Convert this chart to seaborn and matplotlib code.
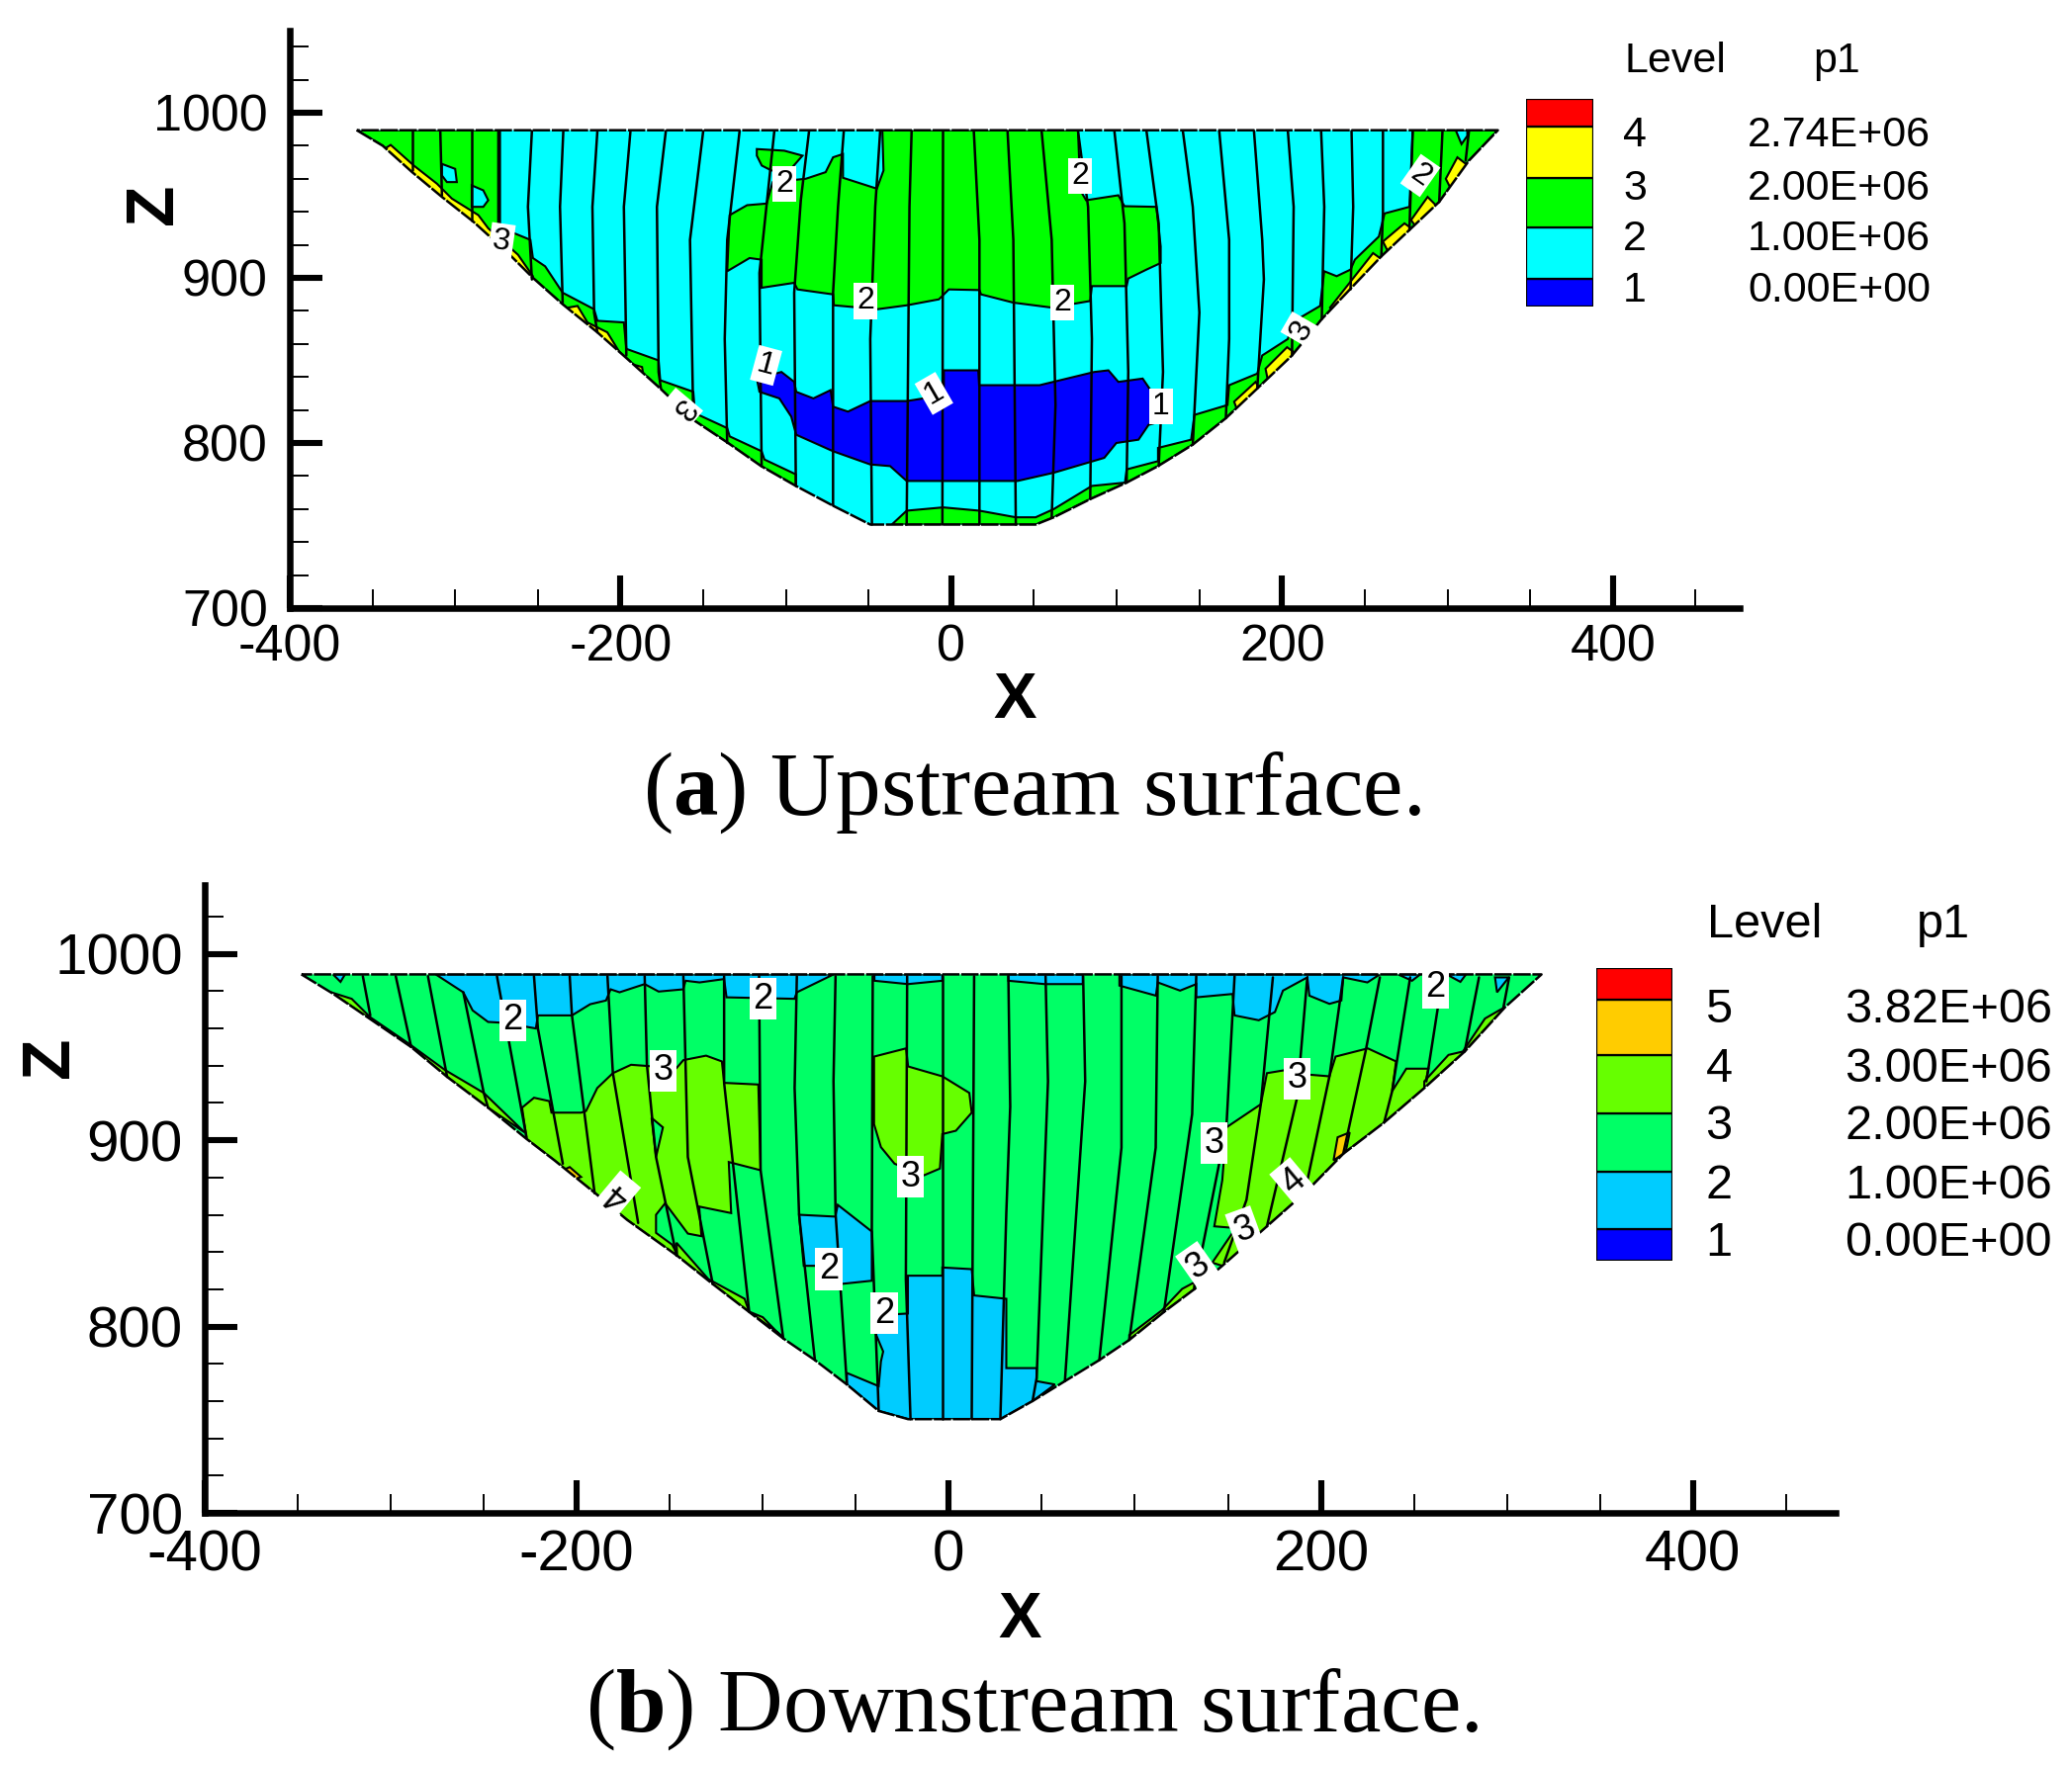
import matplotlib
matplotlib.use("Agg")
import matplotlib.pyplot as plt
import numpy as np
import pandas as pd
import seaborn as sns

# ----------------------------------------------------------
# Colours / levels
# ----------------------------------------------------------

top_colors = ["#0000FF", "#00FFFF", "#00FF00", "#FFFF00", "#FF0000"]
bot_colors = ["#0000FF", "#00CCFF", "#00FF66", "#66FF00", "#FFCC00", "#FF0000"]

top_levels = ["4", "3", "2", "1"]
top_values = ["2.74E+06", "2.00E+06", "1.00E+06", "0.00E+00"]
bot_levels = ["5", "4", "3", "2", "1"]
bot_values = ["3.82E+06", "3.00E+06", "2.00E+06", "1.00E+06", "0.00E+00"]

# ----------------------------------------------------------
# Upstream surface (x, z)
# ----------------------------------------------------------

top_outline = [(-359.5,989.4),(-343.8,980),(-326,964),(-308,949),(-289,934),(-268,915),(-253,900),
    (-235,884),(-214,867),(-196,851),(-176,833),(-156,814),(-135,800),(-115,786),(-94,774),(-71.5,762),
    (-49,750.6),(51,750.6),(62,755),(84,766),(106,776),(125,786),(146,799),(166,815),(185,833),(206,853),
    (224,875),(241,893),(260,913),(277,929),(295,946),(313,971),(330.5,989.4)]

top_green_left = [(-359.5,989.4),(-274,989.4),(-274,931),(-254.5,923),(-253,912),(-245.6,907),(-235,891),
    (-216,881),(-214,874),(-198,873),(-196.5,857),(-177,850),(-176,838),(-156,831),(-155,818),(-135.5,809),
    (-134,804),(-114.7,795),(-113,790),(-94,781),(-94,774),(-115,786),(-135,800),(-156,814),(-176,833),
    (-196,851),(-214,867),(-235,884),(-253,900),(-268,915),(-289,934),(-308,949),(-326,964),(-343.8,980)]

top_green_mid = [(-41.7,989.4),(-41,965),(-45,954),(-65.5,960.6),(-65.5,975),(-71.5,973),(-76,964),(-88,960),
    (-108,958),(-111.6,945),(-123.5,944),(-134,938),(-135.5,904),(-122,912),(-114.7,911),(-114.7,894),(-95,897),
    (-93,893),(-71.5,890),(-71,883.4),(-44.7,881),(-26.8,883.4),(-7.5,887),(-1.5,893),(17,892.6),(18,890),
    (37.5,885),(60.7,882),(84,886),(85,895),(106,895),(107,899.6),(118,905),(126.6,909),(126.6,919),(124,943),
    (104.7,943.4),(101,950),(81.5,947),(78,953),(76.6,989.4)]

top_green_island = [(-117.6,978),(-101,977),(-90,974),(-97,966),(-108.7,965),(-114.6,968),(-117.6,974)]

top_green_right = [(-36,750.6),(-27,759),(-5,761),(17,759),(39,755),(51,755),(62,760),(85,774),(105,776),
    (106,784),(125,789),(125,797),(145,802),(147,817),(167,823),(168,835),(185,842),(188,853),(203.5,863),
    (206,873),(223,883),(225.5,904),(233,901),(241.4,905),(244,911),(258.5,925),(262,939),(277,943),(279,989.4),
    (330.5,989.4),(313,971),(295,946),(277,929),(260,913),(241,893),(224,875),(206,853),(185,833),(166,815),
    (146,799),(125,786),(106,776),(84,766),(62,755),(51,750.6)]

top_cyan_holes = [
    [(-308,969),(-300,966),(-299,958),(-305,958),(-308,962)],
    [(-290,956),(-283,953),(-280,947),(-283,943),(-290,943)],
    [(305,989.4),(308.5,981),(312,986),(312,989.4)],
]

top_yellow = [
    [(-339,980.5),(-325,968),(-311,957),(-302,948),(-286,938),(-280,930),(-262,914),(-253,901),
     (-256,896),(-272,910),(-292,930),(-310,945),(-330,960),(-346,976)],
    [(-226,883),(-220,873),(-208,867),(-199.4,853),(-201,848),(-218,863),(-237,881)],
    [(-194,848),(-187,846),(-186,840),(-196,846)],
    [(171,825),(184,837),(188,830),(174,817)],
    [(190,845),(203,858),(210,853),(192,835)],
    [(229,882),(255,915),(262,910),(234,875)],
    [(261,922),(274,933),(281,928),(265,914)],
    [(278,935),(288,949),(294,943),(283,928)],
    [(299,960),(306,973),(315,966),(304,950)],
]

top_blue = [(-117.6,839),(-102.7,843),(-95,837),(-93.8,831),(-83.4,827),(-73,832),(-71.5,822),(-62.5,819),
    (-49,825.4),(-26.8,825.4),(-4.5,829),(-4.5,844),(16.3,844),(16.8,835),(53.4,835),(86.4,843),(95,844),
    (101,837),(115.7,839),(120.5,832),(128,832),(126.6,813),(119.3,811),(113.2,802),(99.8,800),(92.5,791),
    (62,782),(40,777),(-27,777),(-37,786),(-49,787),(-71.5,795),(-93.8,805),(-96.8,816),(-104,827),(-116,831)]

top_mesh = [
    [(-326,989),(-326,965)],
    [(-309,989),(-308,950)],
    [(-290,989),(-290,935)],
    [(-273,989),(-273,930),(-268,915)],
    [(-253.6,989),(-256,943),(-253.6,899)],
    [(-234.6,989),(-236.6,943),(-235,885)],
    [(-214,989),(-217,943),(-216,879),(-214,867)],
    [(-194,989),(-198,943),(-196.5,853)],
    [(-172.6,989),(-178,943),(-177,843),(-175.6,833)],
    [(-150,989),(-158,923),(-156,814)],
    [(-128,989),(-135.5,923),(-137,863),(-135.5,800)],
    [(-107,989),(-111.6,945),(-116,903),(-114.7,786)],
    [(-86,989),(-91,947),(-95,891),(-94,774)],
    [(-65,989),(-68.5,943),(-71.5,891),(-71.5,762)],
    [(-43,989),(-46,943),(-49,863),(-48,750.6)],
    [(-24,989),(-25.3,943),(-27,750.6)],
    [(-5,989),(-5.4,750.6)],
    [(13.6,989),(17,923),(17,750.6)],
    [(34,989),(37.5,923),(39,750.6)],
    [(54.6,989),(60.7,923),(63,823),(60.7,755)],
    [(76.6,989),(82.7,943),(85,863),(84,766)],
    [(98.6,989),(104.7,933),(107,843),(106,776)],
    [(118,989),(125.4,933),(128,843),(125.4,786)],
    [(140,989),(146,943),(150,879),(146,799)],
    [(162,989),(168,923),(168,863),(166,815)],
    [(183,989),(188,923),(189,899),(185,833)],
    [(203.5,989),(207,943),(206,853)],
    [(223.6,989),(225.5,943),(224,875)],
    [(242,989),(243,943),(241.4,893)],
    [(261,989),(261,939),(260,913)],
    [(279,989),(277,929)],
    [(297,989),(295,946)],
    [(313,989),(311,971)],
]

# label, x, z, rotation
top_labels = [("2",-101,957,0),("2",-52,886,0),("3",-272,922,-8),("3",-163,821,-130),("1",-112,847,-15),
    ("1",-10.5,830,30),("2",78,961.6,0),("2",67,885,0),("1",126.6,822,0),("3",212,868,60),("2",283.6,962,-35)]

# ----------------------------------------------------------
# Downstream surface (x, z)
# ----------------------------------------------------------

bot_outline = [(-348,989),(-330.8,978.5),(-311,965),(-289,950),(-269.7,934),(-247.7,917.5),(-227,900.7),
    (-212,889.2),(-190,871.5),(-173,857.3),(-146,838),(-126.9,822.8),(-107.3,807.8),(-89,793.6),(-72,782),
    (-54.8,768.9),(-37.7,754.7),(-21.9,750.3),(27.7,750.3),(45,760),(62.4,770.7),(80.9,782),(97,792.8),
    (115.6,807.8),(131.9,820),(147,832.6),(171,853.8),(192.7,873),(212,892.7),(234,909.5),(255.6,928),
    (277.3,947.6),(299,971.4),(318.6,989)]

bot_blue = [
    [(-275.8,989),(-261,979.4),(-256,969.7),(-247.7,963.5),(-239,963),(-222,960),(-220.9,967),(-202.6,967),
     (-192.8,973),(-184.3,975),(-181.8,981),(-177,979.4),(-163.5,983.8),(-156,979.8),(-142.8,981),(-141.5,985.6),
     (-134,984.7),(-120.8,986.5),(-119.5,976.7),(-83,975.9),(-81.7,979.4),(-62,989)],
    [(-331,989),(-327,985),(-324.6,989)],
    [(-40,985.6),(-22,983.8),(-3.5,985.6),(-3.5,989),(-40,989)],
    [(32,985.6),(51.5,983.8),(72,983.8),(72,989),(32,989)],
    [(91.7,983),(111.3,977.6),(112.3,984.7),(124.3,980.3),(133,983.8),(133,976.7),(152.5,978.5),(153.6,967),
     (166.6,964.4),(175.3,968.8),(179.6,980.3),(192.7,987.4),(193.8,977.6),(204.6,973.2),(211,975),(212,987.4),
     (225,984.7),(231.7,989),(91.7,989)],
    [(241.5,989),(249,985.6),(253.4,989)],
    [(267.6,989),(275,985),(278,989)],
    [(293.6,987.4),(294.7,979.4),(301,987.4)],
    [(-22,807),(-22,827.3),(-3.5,827.3),(-3.5,831.7),(12.3,830.8),(13.6,816.7),(30.9,814.9),(30.9,777.7),(47.2,777.7),
     (47.2,770.7),(57,768.9),(45,760),(27.7,750.3),(-21.9,750.3),(-37.7,754.7),(-54.8,768.9),(-54.8,775.1),(-37.7,768),
     (-36.5,781.3),(-35.3,786.6),(-39,795.4),(-39,806)],
    [(-80.5,860),(-61,859),(-59.7,865.3),(-41.4,851),(-41.4,824.6),(-58.5,822.8),(-60,832.6),(-78,832.6)],
]

bot_lime = [
    [(-229.4,917.5),(-223,922.8),(-214.8,921),(-213.6,914.8),(-197.7,914.8),(-195,915.7),(-189,928),(-180.6,936),
     (-170.8,940.5),(-146.4,938.7),(-142.7,943),(-130.5,945.4),(-122,942.3),(-120.8,930.8),(-102.4,929.9),
     (-101.2,883.9),(-118.3,888.3),(-117,860.9),(-134.2,864.4),(-133,848.5),(-140.3,849.9),(-152.5,866.2),
     (-157.4,860),(-157.4,850.3),(-148.8,844),(-145,837),(-173,857.3),(-190,871.5),(-212,889.2),(-227,900.7)],
    [(-332,979.4),(-321,975.9),(-311,966),(-290.5,952),(-271,937.8),(-250,925.4),(-228,904.2),(-247.7,917.5),
     (-269.7,934),(-289,950),(-311,965),(-330.8,978.5)],
    [(-146.4,845),(-129.3,825.5),(-109.8,814.9),(-107.3,807.8),(-126.9,822.8),(-146,838)],
    [(-107.3,808),(-90.2,795.4),(-89,793.6),(-100,805)],
    [(-40.2,944.9),(-23,949.3),(-21.9,939.6),(-3.5,934.3),(11,925.4),(12.3,914.8),(3.8,905.1),(-3.5,903.3),
     (-4.8,884.8),(-13.3,881.2),(-29.2,887.4),(-36.5,896.3),(-40.2,908.6)],
    [(149.2,906.9),(167.7,919.3),(171,936),(181.8,937.8),(193.7,935.2),(204.6,934.3),(207.9,944.9),(225.2,949.3),
     (240.4,942.3),(238.3,926.3),(245.9,938.4),(257.8,938.4),(255.6,928),(234,909.5),(212,892.7),(192.7,873),
     (171,853.8),(159,839.7),(147,832.6),(141.6,834.3),(152.5,850.3),(152.5,853),(142.7,853.8),(147,878.6)],
    [(97,795.4),(114.5,808.7),(125.4,820.2),(131.9,823.7),(131.9,820),(115.6,807.8),(97,792.8)],
    [(255.6,931.6),(268.6,945.8),(276.3,947.6),(288.2,965.3),(295.8,969.7),(299,971.4),(277.3,947.6),(255.6,928)],
]

bot_green_holes = [[(-159.8,912),(-153.7,906.9),(-157.4,891)]]

bot_orange = [
    [(206.8,889.2),(209,901.6),(215.5,904.2),(213.3,893.6)],
    [(-207.5,883.9),(-203.8,885.6),(-197.7,880.3),(-202.6,878.6)],
]

bot_mesh = [
    [(-315,988),(-311,967)],
    [(-297.3,988),(-289,950)],
    [(-280,988),(-269.7,934)],
    [(-261,979.4),(-250,925.4),(-247.7,917.5)],
    [(-242.9,988),(-227,901.5)],
    [(-223,988),(-220.9,960),(-207.5,887.4)],
    [(-203.8,988),(-202.6,967),(-190.4,871.5)],
    [(-183.5,988),(-180.6,936),(-167,855.6)],
    [(-163.5,988),(-162.3,940.5),(-157.4,891),(-146.4,838)],
    [(-142.7,988),(-140.3,891),(-126.9,822.8)],
    [(-120.8,988),(-120.8,930.8),(-107.3,807.8)],
    [(-102,988),(-101.2,883.9),(-89,793.6)],
    [(-81.7,988),(-82.9,928),(-80.5,860),(-72,782)],
    [(-60.9,988),(-62,931.6),(-60.9,861),(-54.8,768.9)],
    [(-40.9,988),(-41.4,852),(-37.7,754.7)],
    [(-22.4,988),(-23.1,825.5),(-20.6,750.3)],
    [(-3.5,988),(-3.5,750.3)],
    [(13.6,988),(12.3,750.3)],
    [(32,988),(33,918),(30.9,861),(27.7,750.3)],
    [(52,988),(53.3,931.6),(47.2,772.4),(45,760)],
    [(72.2,988),(73.3,931.6),(62.4,770.7)],
    [(92.8,988),(92.8,896),(80.9,782)],
    [(112.3,988),(111.2,896),(97,792.8)],
    [(133,988),(130.8,914),(115.6,807.8)],
    [(153.6,988),(149.2,906.9),(131.9,820)],
    [(174.2,987.4),(167.7,919.3),(160,868),(148,834.3)],
    [(192.7,987.4),(187.2,922.8),(171,853.8)],
    [(212,987.4),(204.6,934.3),(191.6,873)],
    [(231.7,987.4),(224,947.6),(212,892.7)],
    [(248,987.4),(238.3,926.3),(234,909.5)],
    [(265.4,987.4),(256.7,931.6)],
    [(285,987.4),(277.3,947.6)],
    [(301.2,987.4),(298,970.6)],
]

bot_labels = [("2",-234.3,964.4,0),("2",-100,975.9,0),("3",-153.7,937.3,0),("3",-20.6,880.3,0),("4",-178.2,870.6,140),
    ("2",-64.6,830.8,0),("2",-34.8,807,0),("2",261.7,982,0),("3",187.2,933,0),("3",142.7,898.4,0),
    ("4",185,877.7,40),("3",159,852,20),("3",134,832.6,35)]

# ----------------------------------------------------------
# Style
# ----------------------------------------------------------

W, H = 2095, 1786

sns.set_style("ticks", rc={"text.color": "black", "axes.edgecolor": "black", "xtick.color": "black",
                           "ytick.color": "black", "axes.labelcolor": "black"})
plt.rcParams["font.family"] = ["Liberation Sans", "DejaVu Sans"]
plt.rcParams["axes.unicode_minus"] = False
plt.rcParams["mathtext.fontset"] = "custom"
plt.rcParams["mathtext.rm"] = "Liberation Serif"
plt.rcParams["mathtext.bf"] = "Liberation Serif:bold"

fig = plt.figure(figsize=(W / 100, H / 100), dpi=100, facecolor="white")


def px_axes(left, top, right, bottom):
    return fig.add_axes([left / W, 1 - bottom / H, (right - left) / W, (bottom - top) / H])


def px_text(x, y, s, **kw):
    fig.text(x / W, 1 - y / H, s, **kw)


def fill_poly(ax, pts, color, clip):
    xs, zs = zip(*pts)
    for p in ax.fill(xs, zs, facecolor=color, edgecolor="black", linewidth=1.5, zorder=2):
        p.set_clip_path(clip)


def draw_surface(ax, outline, layers, mesh, labels, label_size):
    xs, zs = zip(*outline)
    base = ax.fill(xs, zs, facecolor=layers[0], edgecolor="none", zorder=1)[0]
    for polys, color in layers[1]:
        for pts in polys:
            fill_poly(ax, pts, color, base)

    rows = []
    for i, line in enumerate(mesh):
        for x, z in line:
            rows.append({"line": i, "x": x, "z": z})
    sns.lineplot(data=pd.DataFrame(rows), x="x", y="z", units="line", estimator=None, sort=False,
                 color="black", linewidth=1.8, legend=False, ax=ax, zorder=3)

    ring = list(outline) + [outline[0]]
    rx, rz = zip(*ring)
    ax.plot(rx, rz, color="black", linewidth=1.8, linestyle=(0, (7, 0.7)), zorder=4)

    for s, x, z, rot in labels:
        ax.text(x, z, s, rotation=rot, ha="center", va="center", fontsize=label_size, zorder=5,
                bbox=dict(boxstyle="square,pad=0.1", facecolor="white", edgecolor="none"))


def style_axes(ax, xlim, zlim, tick_size, pad_x, pad_y):
    ax.set_xlim(xlim)
    ax.set_ylim(zlim)
    ax.set_xlabel("")
    ax.set_ylabel("")
    ax.patch.set_alpha(0)
    sns.despine(ax=ax)
    ax.spines["left"].set_linewidth(4.7)
    ax.spines["bottom"].set_linewidth(4.7)
    ax.set_xticks([-400, -200, 0, 200, 400])
    ax.set_xticklabels(["-400", "-200", "0", "200", "400"])
    ax.set_yticks([700, 800, 900, 1000])
    ax.set_yticklabels(["700", "800", "900", "1000"])
    ax.set_xticks(np.arange(-350, 476, 50), minor=True)
    ax.set_yticks(np.arange(720, zlim[1], 20), minor=True)
    ax.tick_params(which="major", direction="in", length=24, width=4.4, labelsize=tick_size)
    ax.tick_params(which="minor", direction="in", length=14, width=1.4)
    ax.tick_params(axis="x", which="major", pad=pad_x)
    ax.tick_params(axis="y", which="major", pad=pad_y)


def draw_legend(rect, colors, heights, levels, values, lev_x, val_x, ys, head, size):
    ax = px_axes(*rect)
    bottom = 0
    for c, h in zip(colors, heights):
        ax.bar(0, h, bottom=bottom, width=1, color=c, edgecolor="black", linewidth=1.6)
        bottom += h
    ax.set_xlim(-0.5, 0.5)
    ax.set_ylim(0, bottom)
    ax.axis("off")
    for lev, val, y in zip(levels, values, ys):
        px_text(lev_x, y, lev, fontsize=size, ha="center", va="center")
        px_text(val_x, y, val, fontsize=size, ha="right", va="center")
    px_text(head[0], head[2], "Level", fontsize=size, ha="left", va="center")
    px_text(head[1], head[2], "p1", fontsize=size, ha="center", va="center")


# ----------------------------------------------------------
# Upstream panel
# ----------------------------------------------------------

ax1 = px_axes(293, 31, 1759, 615)
draw_surface(ax1, top_outline,
             (top_colors[1], [([top_green_left, top_green_mid, top_green_island, top_green_right], top_colors[2]),
                              (top_cyan_holes, top_colors[1]),
                              (top_yellow, top_colors[3]),
                              ([top_blue], top_colors[0])]),
             top_mesh, top_labels, 23)
style_axes(ax1, (-400, 476.7), (700, 1049.7), 37.5, 11, 16)

draw_legend((1543, 100, 1611, 310), top_colors, [28, 52, 50, 52, 28], top_levels, top_values,
            1653, 1952, [137, 191, 242, 294], (1643, 1857, 62), 31)

px_text(1026, 709, "X", fontsize=47, fontweight="bold", ha="center", va="center")
px_text(156, 206, "Z", fontsize=49, fontweight="bold", rotation=90, ha="center", va="center")
px_text(1043, 824, r"($\mathbf{a}$) Upstream surface.", fontsize=65.5, family="Liberation Serif",
        ha="center", va="baseline")

# ----------------------------------------------------------
# Downstream panel
# ----------------------------------------------------------

ax2 = px_axes(207, 895, 1856, 1530)
draw_surface(ax2, bot_outline,
             (bot_colors[2], [(bot_blue, bot_colors[1]),
                              (bot_lime, bot_colors[3]),
                              (bot_green_holes, bot_colors[2]),
                              (bot_orange, bot_colors[4])]),
             bot_mesh, bot_labels, 26)
style_axes(ax2, (-400, 476.7), (700, 1037), 42, 12, 16)

draw_legend((1614, 979, 1691, 1275), bot_colors, [32, 58, 58, 59, 56, 32], bot_levels, bot_values,
            1738, 2075, [1022, 1082, 1140, 1199, 1257], (1726, 1965, 935), 35)

px_text(1031, 1639, "X", fontsize=47, fontweight="bold", ha="center", va="center")
px_text(51, 1069, "Z", fontsize=49, fontweight="bold", rotation=90, ha="center", va="center")
px_text(1044, 1751, r"($\mathbf{b}$) Downstream surface.", fontsize=65.5, family="Liberation Serif",
        ha="center", va="baseline")

fig.savefig("out.png", dpi=100)
plt.close(fig)
